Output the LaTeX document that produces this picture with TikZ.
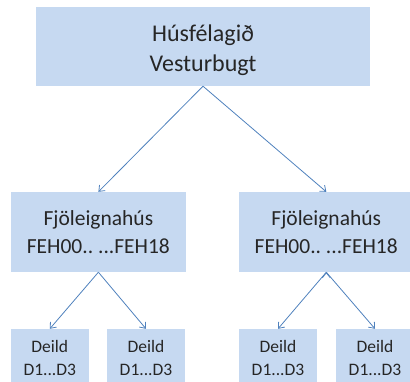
\documentclass[tikz,border=0pt]{standalone}
\usepackage{fontspec}
\setmainfont{Carlito}
\frenchspacing
\usetikzlibrary{positioning, arrows.meta}
\definecolor{boxblue}{RGB}{198,217,241}
\definecolor{linkblue}{RGB}{79,129,189}
\tikzset{
link/.style={->, draw=linkblue, line width=0.8pt}, % directed edges between the boxes
>={Straight Barb[length=5pt,width=8pt]}, % open arrow heads
box/.style={fill=boxblue, align=center, inner sep=0pt, text=black!85}, % common look of every box
house/.style={box, minimum width=334pt, minimum height=79pt, text height=57.4pt, text depth=7pt, font=\fontsize{24}{30}\selectfont},
building/.style={box, minimum width=175pt, minimum height=80pt, text height=48.6pt, text depth=6pt, font=\fontsize{21.5}{27.5}\selectfont},
unit/.style={box, minimum width=78pt, minimum height=62pt, text height=35pt, text depth=5pt, font=\fontsize{17.5}{23}\selectfont},
}
\begin{document}
\begin{tikzpicture}
    \clip (0pt,0pt) rectangle (410pt,-381pt);
    \node[house] (hus) at (203pt,-46.5pt) {Húsfélagið\\Vesturbugt};
    \node[building, below of=hus, node distance=185.5pt, xshift=-104.6pt] (feh1) {Fjöleignahús\\FEH00.. ...FEH18};
    \node[building, below of=hus, node distance=185.5pt, xshift=123.3pt] (feh2) {Fjöleignahús\\FEH00.. ...FEH18};
    \node[unit, below of=feh1, node distance=128pt, xshift=-48.6pt] (d11) {Deild\\D1...D3};
    \node[unit, below of=feh1, node distance=128pt, xshift=47.6pt] (d12) {Deild\\D1...D3};
    \node[unit, below of=feh2, node distance=128pt, xshift=-48.3pt] (d21) {Deild\\D1...D3};
    \node[unit, below of=feh2, node distance=128pt, xshift=48.7pt] (d22) {Deild\\D1...D3};
    \draw[link]
    (hus.south) edge (feh1.north)
    (hus.south) edge (feh2.north)
    (feh1.south) edge (d11.north)
    (feh1.south) edge (d12.north)
    (feh2.south) edge (d21.north)
    (feh2.south) edge (d22.north);
  \end{tikzpicture}
\end{document}
